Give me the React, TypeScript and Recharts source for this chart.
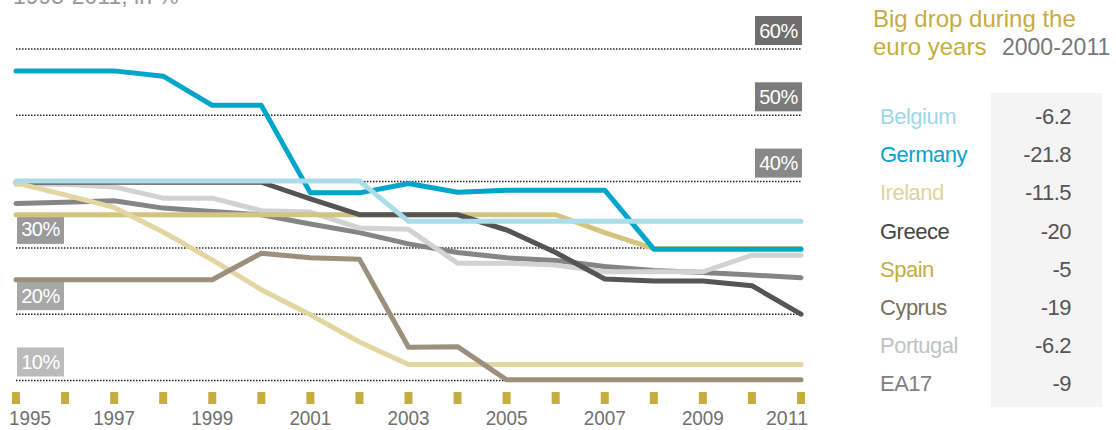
import { LineChart, Line, XAxis, YAxis, ReferenceLine } from "recharts";

const years = [1995, 1996, 1997, 1998, 1999, 2000, 2001, 2002, 2003, 2004, 2005, 2006, 2007, 2008, 2009, 2010, 2011];
const labeledYears = [1995, 1997, 1999, 2001, 2003, 2005, 2007, 2009, 2011];
const gridValues = [10, 20, 30, 40, 50, 60];

const belgium = [40.1, 40.1, 40.1, 40.1, 40.1, 40.1, 40.1, 40.1, 34.0, 34.0, 34.0, 34.0, 34.0, 34.0, 34.0, 34.0, 34.0];
const germany = [56.7, 56.7, 56.7, 55.9, 51.5, 51.5, 38.3, 38.3, 39.7, 38.4, 38.7, 38.7, 38.7, 29.8, 29.8, 29.8, 29.8];
const ireland = [39.8, 38.0, 36.1, 32.4, 28.2, 23.7, 19.9, 15.8, 12.4, 12.4, 12.4, 12.4, 12.4, 12.4, 12.4, 12.4, 12.4];
const greece = [39.9, 39.9, 39.9, 39.9, 39.9, 39.9, 37.4, 35.0, 35.0, 35.0, 32.7, 29.3, 25.3, 25.0, 25.0, 24.3, 20.0];
const spain = [35.0, 35.0, 35.0, 35.0, 35.0, 35.0, 35.0, 35.0, 35.0, 35.0, 35.0, 35.0, 32.3, 29.9, 29.9, 29.9, 29.9];
const cyprus = [25.2, 25.2, 25.2, 25.2, 25.2, 29.2, 28.5, 28.3, 15.0, 15.1, 10.1, 10.1, 10.1, 10.1, 10.1, 10.1, 10.1];
const portugal = [39.6, 39.6, 39.2, 37.5, 37.5, 35.6, 35.4, 33.0, 32.8, 27.7, 27.7, 27.4, 26.4, 26.4, 26.4, 28.9, 28.9];
const ea17 = [36.7, 36.9, 37.1, 36.0, 35.5, 35.0, 33.6, 32.3, 30.6, 29.3, 28.5, 28.1, 27.2, 26.6, 26.3, 25.9, 25.5];

const tableNames = ["Belgium", "Germany", "Ireland", "Greece", "Spain", "Cyprus", "Portugal", "EA17"];
const tableDrops = ["-6.2", "-21.8", "-11.5", "-20", "-5", "-19", "-6.2", "-9"];
const tableColors = ["#9fd6e8", "#00a6c9", "#e0d3a0", "#444444", "#c5ad3f", "#7a7060", "#c2c2c2", "#808080"];

// drawing order: last one ends up on top
const series = [
  { key: "ea17", data: ea17, color: "#858585" },
  { key: "portugal", data: portugal, color: "#d2d2d2" },
  { key: "spain", data: spain, color: "#d5c47d" },
  { key: "greece", data: greece, color: "#555555" },
  { key: "ireland", data: ireland, color: "#e3d6a3" },
  { key: "cyprus", data: cyprus, color: "#9c907c" },
  { key: "germany", data: germany, color: "#00a6c9" },
  { key: "belgium", data: belgium, color: "#aadcea" },
];

const rows = years.map((year, i) => {
  const row: Record<string, number> = { year };
  series.forEach((s) => {
    row[s.key] = s.data[i];
  });
  return row;
});

const FONT = "'Liberation Sans', Arial, sans-serif";
const GOLD = "#c5ad3f";
const boxFill: Record<number, string> = {
  60: "#6e6e6e",
  50: "#7b7b7b",
  40: "#888888",
  30: "#9a9a9a",
  20: "#a8a8a8",
  10: "#bbbbbb",
};

function GridBox({ viewBox, value }: any) {
  if (!viewBox) return null;
  const w = 47;
  const h = 29;
  const right = value >= 40;
  const bx = right ? viewBox.x + viewBox.width + 1 - w : viewBox.x + 1;
  const by = viewBox.y - 4 - h;
  return (
    <g>
      <rect x={bx} y={by} width={w} height={h} fill={boxFill[value]} />
      <text
        x={bx + w / 2}
        y={by + h / 2 + 7}
        textAnchor="middle"
        fill="#fff"
        fontSize={20}
        fontFamily={FONT}
        letterSpacing={-0.5}
      >
        {value}%
      </text>
    </g>
  );
}

function YearTick({ x, y, payload, index }: any) {
  const v = payload.value;
  const first = index === 0;
  const last = v === years[years.length - 1];
  return (
    <g>
      <rect x={x - 4} y={y - 15} width={8} height={12} fill={GOLD} />
      {labeledYears.includes(v) && (
        <text
          x={first ? x - 7 : last ? x + 7 : x}
          y={y + 18}
          textAnchor={first ? "start" : last ? "end" : "middle"}
          fill="#707070"
          fontSize={21}
          textLength={42}
          lengthAdjust="spacingAndGlyphs"
          fontFamily={FONT}
        >
          {v}
        </text>
      )}
    </g>
  );
}

export default function App() {
  return (
    <div style={{ position: "absolute", left: 0, top: 0, width: 1116, height: 430, background: "#fff" }}>
      <LineChart width={1116} height={430} data={rows} margin={{ top: 49, right: 315, left: 16, bottom: 1 }}>
        <XAxis
          dataKey="year"
          type="number"
          domain={[1995, 2011]}
          ticks={years}
          interval={0}
          height={22}
          axisLine={false}
          tickLine={false}
          tickSize={0}
          tickMargin={0}
          tick={<YearTick />}
        />
        <YAxis hide type="number" domain={[6, 60]} allowDataOverflow />
        {gridValues.map((v) => (
          <ReferenceLine
            key={v}
            y={v}
            stroke="#222"
            strokeWidth={1.5}
            strokeDasharray="1.5 1.5"
            label={(props: any) => <GridBox {...props} value={v} />}
          />
        ))}
        {series.map((s) => (
          <Line
            key={s.key}
            dataKey={s.key}
            stroke={s.color}
            strokeWidth={5}
            strokeLinecap="round"
            strokeLinejoin="round"
            dot={false}
            activeDot={false}
            isAnimationActive={false}
          />
        ))}
      </LineChart>
      <svg
        width={1116}
        height={430}
        style={{ position: "absolute", left: 0, top: 0, pointerEvents: "none" }}
        fontFamily={FONT}
      >
        <text x={13} y={4} fill="#999" fontSize={23}>
          1995-2011, in %
        </text>
        <text x={873} y={27} fill={GOLD} fontSize={24}>
          Big drop during the
        </text>
        <text x={873} y={55} fill={GOLD} fontSize={24}>
          euro years
          <tspan x={1002} fill="#777" fontSize={23}>
            2000-2011
          </tspan>
        </text>
        <rect x={991} y={93} width={111} height={314} fill="#f4f4f4" />
        {tableNames.map((name, i) => (
          <g key={name}>
            <text x={880} y={124 + i * 38.2} fill={tableColors[i]} fontSize={22} letterSpacing={-0.5}>
              {name}
            </text>
            <text x={1071} y={124 + i * 38.2} fill="#555" fontSize={22} textAnchor="end" letterSpacing={-0.5}>
              {tableDrops[i]}
            </text>
          </g>
        ))}
      </svg>
    </div>
  );
}
